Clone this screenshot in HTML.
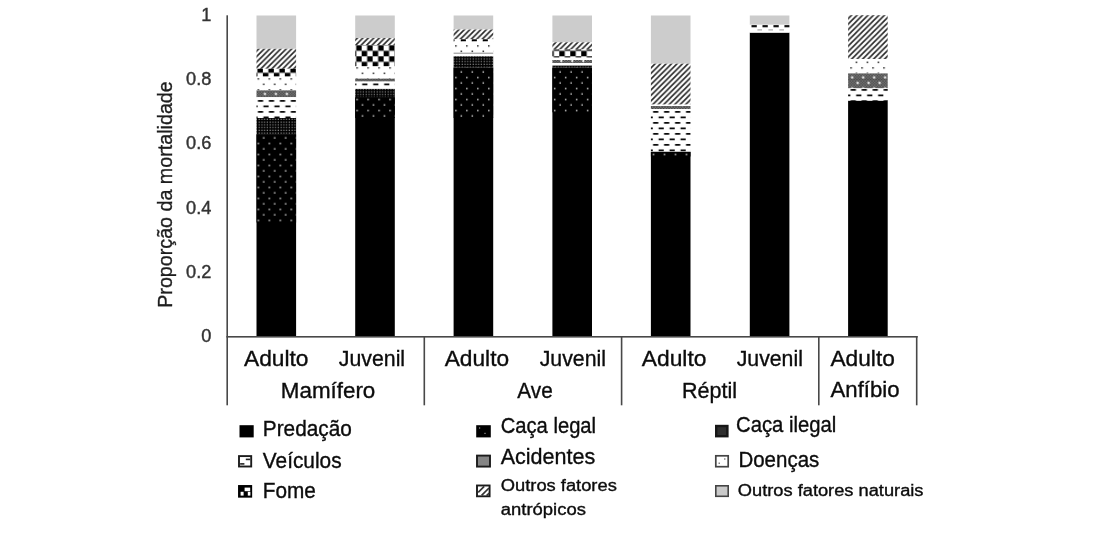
<!DOCTYPE html>
<html><head><meta charset="utf-8"><title>Proporção da mortalidade</title>
<style>html,body{margin:0;padding:0;background:#fff;}svg{display:block;will-change:transform;}text{font-family:"Liberation Sans", sans-serif;}</style></head><body>
<svg width="1094" height="533" viewBox="0 0 1094 533">
<defs>
<pattern id="pHatch" patternUnits="userSpaceOnUse" x="0.570" y="0.000" width="5.4820" height="5.4950">
<rect x="-1" y="-1" width="7.4820" height="7.4950" fill="#fff"/>
<path d="M-5.4820 10.9900 L10.9640 -5.4950 M-5.4820 5.4950 L5.4820 -5.4950 M0.0000 10.9900 L10.9640 0.0000" stroke="#262626" stroke-width="1.6" fill="none"/>
</pattern>
<pattern id="pCheck" patternUnits="userSpaceOnUse" x="-0.560" y="1.350" width="10.9770" height="10.9900">
<rect x="-1" y="-1" width="12.9770" height="12.9900" fill="#fff"/>
<rect x="5.4885" y="0" width="5.4885" height="5.4950" fill="#000"/>
<rect x="0" y="5.4950" width="5.4885" height="5.4950" fill="#000"/>
</pattern>
<pattern id="pDotsB" patternUnits="userSpaceOnUse" x="3.086" y="-0.800" width="10.9770" height="10.9900">
<rect x="-1" y="-1" width="12.9770" height="12.9900" fill="#fff"/>
<rect x="1.994" y="1.998" width="1.5" height="1.5" fill="#222"/>
<rect x="7.483" y="7.492" width="1.5" height="1.5" fill="#222"/>
</pattern>
<pattern id="pLegal" patternUnits="userSpaceOnUse" x="3.086" y="-2.180" width="10.9770" height="10.9900">
<rect x="-1" y="-1" width="12.9770" height="12.9900" fill="#000"/>
<rect x="1.994" y="1.998" width="1.5" height="1.5" fill="#c4c4c4"/>
<rect x="7.483" y="7.492" width="1.5" height="1.5" fill="#c4c4c4"/>
</pattern>
<pattern id="pDash" patternUnits="userSpaceOnUse" x="5.160" y="0.110" width="10.9770" height="10.9900">
<rect x="-1" y="-1" width="12.9770" height="12.9900" fill="#fff"/>
<rect x="0.3" y="1.0" width="5.2" height="1.75" fill="#0a0a0a"/>
<rect x="5.788" y="6.495" width="5.2" height="1.75" fill="#0a0a0a"/>
</pattern>
<pattern id="pAcid" patternUnits="userSpaceOnUse" x="4.230" y="-2.180" width="10.9770" height="10.9900">
<rect x="-1" y="-1" width="12.9770" height="12.9900" fill="#8e8e8e"/>
<path d="M0.000 0.000h1.372v1.374h-1.372zM2.744 0.000h1.372v1.374h-1.372zM5.489 0.000h1.372v1.374h-1.372zM8.233 0.000h1.372v1.374h-1.372zM1.372 1.374h1.372v1.374h-1.372zM4.116 1.374h1.372v1.374h-1.372zM6.861 1.374h1.372v1.374h-1.372zM9.605 1.374h1.372v1.374h-1.372zM0.000 2.748h1.372v1.374h-1.372zM2.744 2.748h1.372v1.374h-1.372zM5.489 2.748h1.372v1.374h-1.372zM8.233 2.748h1.372v1.374h-1.372zM1.372 4.121h1.372v1.374h-1.372zM4.116 4.121h1.372v1.374h-1.372zM6.861 4.121h1.372v1.374h-1.372zM9.605 4.121h1.372v1.374h-1.372zM0.000 5.495h1.372v1.374h-1.372zM2.744 5.495h1.372v1.374h-1.372zM5.489 5.495h1.372v1.374h-1.372zM8.233 5.495h1.372v1.374h-1.372zM1.372 6.869h1.372v1.374h-1.372zM4.116 6.869h1.372v1.374h-1.372zM6.861 6.869h1.372v1.374h-1.372zM9.605 6.869h1.372v1.374h-1.372zM0.000 8.242h1.372v1.374h-1.372zM2.744 8.242h1.372v1.374h-1.372zM5.489 8.242h1.372v1.374h-1.372zM8.233 8.242h1.372v1.374h-1.372zM1.372 9.616h1.372v1.374h-1.372zM4.116 9.616h1.372v1.374h-1.372zM6.861 9.616h1.372v1.374h-1.372zM9.605 9.616h1.372v1.374h-1.372z" fill="#333"/>
<circle cx="2.744" cy="2.748" r="1.15" fill="#fff"/>
<circle cx="8.233" cy="8.242" r="1.15" fill="#fff"/>
</pattern>
<pattern id="pIleg" patternUnits="userSpaceOnUse" x="0.000" y="0.000" width="2.7443" height="2.7475">
<rect x="-1" y="-1" width="4.7443" height="4.7475" fill="#000"/>
<rect x="0.6" y="0.6" width="1.2" height="1.2" fill="#8a8a8a"/>
</pattern>
</defs>
<rect width="1094" height="533" fill="#ffffff"/>
<rect x="256.50" y="134.30" width="39.60" height="202.50" fill="#000"/>
<rect x="256.50" y="15.50" width="39.60" height="33.30" fill="#cccccc"/>
<rect x="256.50" y="48.80" width="39.60" height="20.00" fill="url(#pHatch)"/>
<rect x="256.50" y="68.80" width="39.60" height="7.80" fill="url(#pCheck)"/>
<rect x="256.50" y="76.60" width="39.60" height="13.80" fill="url(#pDotsB)"/>
<rect x="256.50" y="90.40" width="39.60" height="6.80" fill="url(#pAcid)"/>
<rect x="256.50" y="97.20" width="39.60" height="20.80" fill="url(#pDash)"/>
<rect x="256.50" y="118.00" width="39.60" height="16.30" fill="url(#pIleg)"/>
<rect x="256.50" y="134.30" width="39.60" height="88.20" fill="url(#pLegal)"/>
<rect x="355.20" y="97.20" width="39.60" height="239.60" fill="#000"/>
<rect x="355.20" y="15.50" width="39.60" height="22.50" fill="#cccccc"/>
<rect x="355.20" y="38.00" width="39.60" height="7.00" fill="url(#pHatch)"/>
<rect x="355.20" y="45.00" width="39.60" height="21.40" fill="url(#pCheck)"/>
<rect x="355.20" y="66.40" width="39.60" height="12.20" fill="url(#pDotsB)"/>
<rect x="355.20" y="78.60" width="39.60" height="3.00" fill="url(#pAcid)"/>
<rect x="355.20" y="81.60" width="39.60" height="7.30" fill="url(#pDash)"/>
<rect x="355.20" y="88.90" width="39.60" height="8.30" fill="url(#pIleg)"/>
<rect x="355.20" y="97.20" width="39.60" height="20.80" fill="url(#pLegal)"/>
<rect x="453.60" y="67.60" width="39.60" height="269.20" fill="#000"/>
<rect x="453.60" y="15.50" width="39.60" height="14.00" fill="#cccccc"/>
<rect x="453.60" y="29.50" width="39.60" height="9.80" fill="url(#pHatch)"/>
<rect x="453.60" y="39.30" width="39.60" height="2.20" fill="#fff"/>
<rect x="460.80" y="39.30" width="5.1" height="2.20" fill="#000"/>
<rect x="471.78" y="39.30" width="5.1" height="2.20" fill="#000"/>
<rect x="482.75" y="39.30" width="5.1" height="2.20" fill="#000"/>
<rect x="453.60" y="39.30" width="1.0" height="2.20" fill="#222"/>
<rect x="453.60" y="41.50" width="39.60" height="11.20" fill="url(#pDotsB)"/>
<rect x="453.60" y="52.70" width="39.60" height="1.00" fill="#8c8c8c"/>
<rect x="453.60" y="56.30" width="39.60" height="11.30" fill="url(#pIleg)"/>
<rect x="453.60" y="67.60" width="39.60" height="50.40" fill="url(#pLegal)"/>
<rect x="552.40" y="67.60" width="39.60" height="269.20" fill="#000"/>
<rect x="552.40" y="15.50" width="39.60" height="26.80" fill="#cccccc"/>
<rect x="552.40" y="42.30" width="39.60" height="7.20" fill="url(#pHatch)"/>
<rect x="552.40" y="49.50" width="39.60" height="7.90" fill="url(#pCheck)"/>
<rect x="552.40" y="60.00" width="39.60" height="3.00" fill="url(#pAcid)"/>
<rect x="552.40" y="65.60" width="39.60" height="2.00" fill="url(#pIleg)"/>
<rect x="552.40" y="67.60" width="39.60" height="44.70" fill="url(#pLegal)"/>
<rect x="650.90" y="151.80" width="39.60" height="185.00" fill="#000"/>
<rect x="650.90" y="15.50" width="39.60" height="48.20" fill="#cccccc"/>
<rect x="650.90" y="63.70" width="39.60" height="40.70" fill="url(#pHatch)"/>
<rect x="650.90" y="106.00" width="39.60" height="3.00" fill="url(#pAcid)"/>
<rect x="650.90" y="109.00" width="39.60" height="42.80" fill="url(#pDash)"/>
<rect x="650.90" y="151.80" width="39.60" height="4.70" fill="url(#pLegal)"/>
<rect x="749.80" y="32.60" width="39.60" height="304.20" fill="#000"/>
<rect x="749.80" y="15.50" width="39.60" height="9.30" fill="#cccccc"/>
<rect x="749.80" y="24.80" width="39.60" height="7.80" fill="#fff"/>
<rect x="751.50" y="25.1" width="5.30" height="2.2" fill="#111"/>
<rect x="762.48" y="25.1" width="5.30" height="2.2" fill="#111"/>
<rect x="773.45" y="25.1" width="5.30" height="2.2" fill="#111"/>
<rect x="784.43" y="25.1" width="4.97" height="2.2" fill="#111"/>
<rect x="757.40" y="29.3" width="4.6" height="1.2" fill="#aaa"/>
<rect x="768.38" y="29.3" width="4.6" height="1.2" fill="#aaa"/>
<rect x="779.35" y="29.3" width="4.6" height="1.2" fill="#aaa"/>
<rect x="848.10" y="100.60" width="39.60" height="236.20" fill="#000"/>
<rect x="848.10" y="15.20" width="39.60" height="43.80" fill="url(#pHatch)"/>
<rect x="848.10" y="59.00" width="39.60" height="14.40" fill="url(#pDotsB)"/>
<rect x="848.10" y="73.40" width="39.60" height="15.00" fill="url(#pAcid)"/>
<rect x="848.10" y="88.40" width="39.60" height="12.20" fill="url(#pDash)"/>
<rect x="226.4" y="15.3" width="1.6" height="390" fill="#484848"/>
<rect x="226.4" y="336.0" width="691.3" height="1.6" fill="#484848"/>
<rect x="423.5" y="336.0" width="1.6" height="69.3" fill="#484848"/>
<rect x="620.8" y="336.0" width="1.6" height="69.3" fill="#484848"/>
<rect x="818.0" y="336.0" width="1.6" height="69.3" fill="#484848"/>
<rect x="915.9" y="336.0" width="1.6" height="69.3" fill="#484848"/>
<text x="211.4" y="20.7" font-size="18.2" text-anchor="end" fill="#333333" stroke="#333333" stroke-width="0.4">1</text>
<text x="211.4" y="85.0" font-size="18.2" text-anchor="end" fill="#333333" stroke="#333333" stroke-width="0.4">0.8</text>
<text x="211.4" y="149.4" font-size="18.2" text-anchor="end" fill="#333333" stroke="#333333" stroke-width="0.4">0.6</text>
<text x="211.4" y="213.8" font-size="18.2" text-anchor="end" fill="#333333" stroke="#333333" stroke-width="0.4">0.4</text>
<text x="211.4" y="278.2" font-size="18.2" text-anchor="end" fill="#333333" stroke="#333333" stroke-width="0.4">0.2</text>
<text x="211.4" y="342.1" font-size="18.2" text-anchor="end" fill="#333333" stroke="#333333" stroke-width="0.4">0</text>
<text transform="translate(172.4,307.8) rotate(-90)" font-size="19.7" fill="#1e1e1e" stroke="#1e1e1e" stroke-width="0.35">Proporção da mortalidade</text>
<text x="244.0" y="365.7" font-size="21.4" fill="#0c0c0c" stroke="#0c0c0c" stroke-width="0.35" textLength="64.5" lengthAdjust="spacingAndGlyphs">Adulto</text>
<text x="338.8" y="365.7" font-size="21.4" fill="#0c0c0c" stroke="#0c0c0c" stroke-width="0.35" textLength="66.3" lengthAdjust="spacingAndGlyphs">Juvenil</text>
<text x="280.8" y="397.6" font-size="21.4" fill="#0c0c0c" stroke="#0c0c0c" stroke-width="0.35" textLength="94.5" lengthAdjust="spacingAndGlyphs">Mamífero</text>
<text x="444.7" y="365.7" font-size="21.4" fill="#0c0c0c" stroke="#0c0c0c" stroke-width="0.35" textLength="64.4" lengthAdjust="spacingAndGlyphs">Adulto</text>
<text x="539.7" y="365.7" font-size="21.4" fill="#0c0c0c" stroke="#0c0c0c" stroke-width="0.35" textLength="66.3" lengthAdjust="spacingAndGlyphs">Juvenil</text>
<text x="517.3" y="397.6" font-size="21.4" fill="#0c0c0c" stroke="#0c0c0c" stroke-width="0.35" textLength="35.4" lengthAdjust="spacingAndGlyphs">Ave</text>
<text x="641.8" y="365.7" font-size="21.4" fill="#0c0c0c" stroke="#0c0c0c" stroke-width="0.35" textLength="64.6" lengthAdjust="spacingAndGlyphs">Adulto</text>
<text x="736.7" y="365.7" font-size="21.4" fill="#0c0c0c" stroke="#0c0c0c" stroke-width="0.35" textLength="66.2" lengthAdjust="spacingAndGlyphs">Juvenil</text>
<text x="682.0" y="397.6" font-size="21.4" fill="#0c0c0c" stroke="#0c0c0c" stroke-width="0.35" textLength="55.1" lengthAdjust="spacingAndGlyphs">Réptil</text>
<text x="830.5" y="365.7" font-size="21.4" fill="#0c0c0c" stroke="#0c0c0c" stroke-width="0.35" textLength="64.3" lengthAdjust="spacingAndGlyphs">Adulto</text>
<text x="830.5" y="397.2" font-size="21.4" fill="#0c0c0c" stroke="#0c0c0c" stroke-width="0.35" textLength="69.1" lengthAdjust="spacingAndGlyphs">Anfíbio</text>
<text x="262.8" y="435.8" font-size="21.4" fill="#0c0c0c" stroke="#0c0c0c" stroke-width="0.35" textLength="89.1" lengthAdjust="spacingAndGlyphs">Predação</text>
<text x="262.8" y="467.5" font-size="21.4" fill="#0c0c0c" stroke="#0c0c0c" stroke-width="0.35" textLength="78.8" lengthAdjust="spacingAndGlyphs">Veículos</text>
<text x="262.8" y="497.5" font-size="21.4" fill="#0c0c0c" stroke="#0c0c0c" stroke-width="0.35" textLength="53.1" lengthAdjust="spacingAndGlyphs">Fome</text>
<text x="500.7" y="432.5" font-size="21.4" fill="#0c0c0c" stroke="#0c0c0c" stroke-width="0.35" textLength="95.4" lengthAdjust="spacingAndGlyphs">Caça legal</text>
<text x="500.7" y="464.3" font-size="21.4" fill="#0c0c0c" stroke="#0c0c0c" stroke-width="0.35" textLength="94.6" lengthAdjust="spacingAndGlyphs">Acidentes</text>
<text x="500.8" y="490.9" font-size="16.0" fill="#0c0c0c" stroke="#0c0c0c" stroke-width="0.35" textLength="116.0" lengthAdjust="spacingAndGlyphs">Outros fatores</text>
<text x="500.8" y="515.0" font-size="16.0" fill="#0c0c0c" stroke="#0c0c0c" stroke-width="0.35" textLength="85.1" lengthAdjust="spacingAndGlyphs">antrópicos</text>
<text x="736.0" y="432.0" font-size="21.4" fill="#0c0c0c" stroke="#0c0c0c" stroke-width="0.35" textLength="100.2" lengthAdjust="spacingAndGlyphs">Caça ilegal</text>
<text x="738.4" y="466.6" font-size="21.4" fill="#0c0c0c" stroke="#0c0c0c" stroke-width="0.35" textLength="80.9" lengthAdjust="spacingAndGlyphs">Doenças</text>
<text x="737.8" y="495.6" font-size="16.0" fill="#0c0c0c" stroke="#0c0c0c" stroke-width="0.35" textLength="185.7" lengthAdjust="spacingAndGlyphs">Outros fatores naturais</text>
<rect x="239.5" y="425.2" width="14.2" height="12.2" fill="#000"/>
<rect x="239.0" y="456.1" width="12.2" height="10.4" fill="#fff" stroke="#1c1c1c" stroke-width="1.9"/>
<rect x="245.8" y="458.6" width="4.4" height="1.6" fill="#222"/>
<rect x="240.1" y="463.1" width="4.3" height="1.6" fill="#222"/>
<rect x="238.9" y="485.9" width="12.4" height="10.9" fill="#000" stroke="#000" stroke-width="1.7"/>
<rect x="244.6" y="487.6" width="5.6" height="3.6" fill="#fff"/>
<rect x="240.6" y="491.8" width="3.0" height="3.8" fill="#fff"/>
<rect x="247.8" y="491.8" width="2.6" height="3.8" fill="#fff"/>
<rect x="476.2" y="425.2" width="14.6" height="12.2" fill="#000"/>
<rect x="479.0" y="427.4" width="1.2" height="1.2" fill="#999"/>
<rect x="484.4" y="432.8" width="1.2" height="1.2" fill="#999"/>
<rect x="477.0" y="455.6" width="13.0" height="11.0" fill="#858585" stroke="#1c1c1c" stroke-width="1.9"/>
<rect x="477.0" y="485.5" width="12.6" height="10.8" fill="#fff" stroke="#1c1c1c" stroke-width="1.9"/>
<path d="M478.2 492.4 L484.2 486.4 M481.6 495.4 L489.0 488.0 M486.6 495.6 L489.2 493.0" stroke="#333" stroke-width="1.7" fill="none"/>
<rect x="715.0" y="424.8" width="13.6" height="12.6" fill="#161616"/>
<rect x="717.4" y="427.2" width="8.8" height="7.8" fill="#2e2e2e"/>
<rect x="715.8" y="455.8" width="12.4" height="10.9" fill="#fff" stroke="#444" stroke-width="1.7"/>
<rect x="718.6" y="462.6" width="1.2" height="1.2" fill="#444"/>
<rect x="724.2" y="458.4" width="1.2" height="1.2" fill="#444"/>
<rect x="715.8" y="485.8" width="12.4" height="10.5" fill="#cacaca" stroke="#444" stroke-width="1.6"/>
</svg>
</body></html>
